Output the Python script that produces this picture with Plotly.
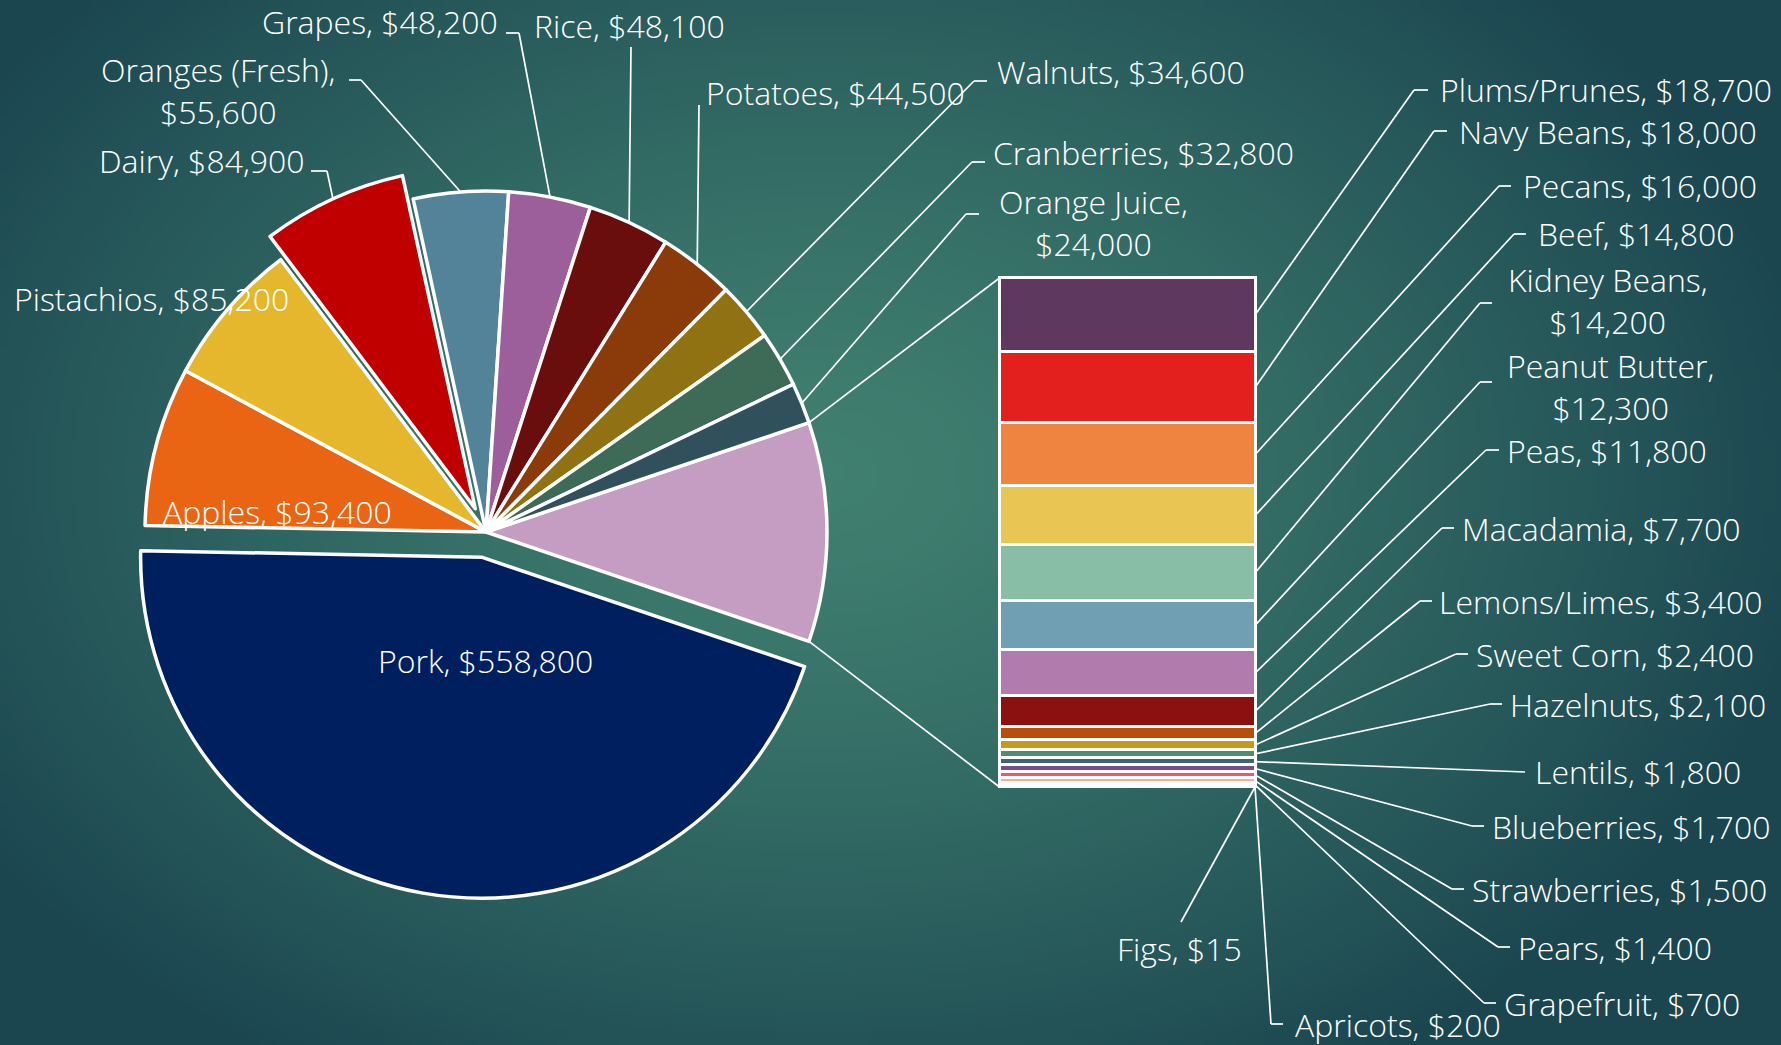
import base64
import math
import struct
import zlib

import plotly.graph_objects as go

W, H = 1781, 1045

# Main pie slices
pie_labels = ["Pork", "Apples", "Pistachios", "Dairy", "Oranges (Fresh)", "Grapes", "Rice",
              "Potatoes", "Walnuts", "Cranberries", "Orange Juice"]
pie_values = [558800, 93400, 85200, 84900, 55600, 48200, 48100, 44500, 34600, 32800, 24000]
pie_colors = ["#001F5F", "#E96513", "#E5B72C", "#C00000", "#528399", "#9D5F9B", "#6A0D0D",
              "#8B3A0A", "#917212", "#3E6B58", "#30505C"]
other_color = "#C59DC3"

# Items broken out into the bar
bar_labels = ["Plums/Prunes", "Navy Beans", "Pecans", "Beef", "Kidney Beans", "Peanut Butter",
              "Peas", "Macadamia", "Lemons/Limes", "Sweet Corn", "Hazelnuts", "Lentils",
              "Blueberries", "Strawberries", "Pears", "Grapefruit", "Apricots", "Figs"]
bar_values = [18700, 18000, 16000, 14800, 14200, 12300, 11800, 7700, 3400, 2400, 2100, 1800,
              1700, 1500, 1400, 700, 200, 15]
bar_colors = ["#5E385E", "#E4201E", "#EF8441", "#E9C554", "#89BEA6", "#709EB3", "#B27BAE",
              "#8B1010", "#B84E0E", "#C49A1C", "#4F8D72", "#3F6274", "#7B4A87", "#F0566A",
              "#F5B191", "#F8D0A0", "#D0E4DA", "#A0C0D0"]

pulled = {"Pork": 0.075, "Dairy": 0.075}
wrapped = {"Oranges (Fresh)", "Orange Juice", "Kidney Beans", "Peanut Butter"}

# label layout in pixels: x, y, anchor, leader points (label side)
label_pos = {
    "Pork": (486, 660, "center", None),
    "Apples": (161, 511, "left", None),
    "Pistachios": (12, 299, "left", None),
    "Dairy": (307, 160, "right", [(327, 171), (311, 171)]),
    "Oranges (Fresh)": (218, 90, "center", [(361, 80), (349, 80)]),
    "Grapes": (500, 22, "right", [(519, 33), (506, 33)]),
    "Rice": (532, 26, "left", [(631, 47)]),
    "Potatoes": (704, 93, "left", [(699, 105)]),
    "Walnuts": (995, 71, "left", [(974, 81), (987, 81)]),
    "Cranberries": (991, 152, "left", [(972, 162), (985, 162)]),
    "Orange Juice": (1093, 223, "center", [(966, 214), (979, 214)]),
    "Plums/Prunes": (1438, 89, "left", [(1414, 90), (1428, 90)]),
    "Navy Beans": (1457, 132, "left", [(1434, 131), (1447, 131)]),
    "Pecans": (1521, 185, "left", [(1499, 186), (1511, 186)]),
    "Beef": (1536, 234, "left", [(1514, 234), (1526, 234)]),
    "Kidney Beans": (1608, 301, "center", [(1480, 303), (1492, 303)]),
    "Peanut Butter": (1610, 386, "center", [(1480, 382), (1492, 382)]),
    "Peas": (1505, 450, "left", [(1486, 450), (1499, 450)]),
    "Macadamia": (1460, 528, "left", [(1442, 528), (1454, 528)]),
    "Lemons/Limes": (1437, 601, "left", [(1420, 601), (1432, 601)]),
    "Sweet Corn": (1474, 654, "left", [(1456, 654), (1468, 654)]),
    "Hazelnuts": (1508, 704, "left", [(1490, 704), (1502, 704)]),
    "Lentils": (1533, 771, "left", [(1525, 772)]),
    "Blueberries": (1490, 826, "left", [(1472, 826), (1484, 826)]),
    "Strawberries": (1470, 889, "left", [(1452, 889), (1464, 889)]),
    "Pears": (1516, 947, "left", [(1498, 947), (1510, 947)]),
    "Grapefruit": (1502, 1003, "left", [(1484, 1003), (1496, 1003)]),
    "Apricots": (1293, 1024, "left", [(1271, 1024), (1283, 1024)]),
    "Figs": (1244, 948, "right", [(1181, 922)]),
}

# geometry (pixels)
PIE_CX, PIE_CY, PIE_R = 486, 532, 341
BAR_X0, BAR_X1, BAR_Y0, BAR_Y1 = 999.5, 1255, 278, 787
FONT = dict(family="Open Sans, Lato, sans-serif", size=32, color="#FFFFFF", weight=300)


def px(x, y):
    return x / W, 1 - y / H


def make_background():
    # soft radial teal gradient, like the slide background
    w, h = 356, 209
    inner, outer = (64, 128, 112), (27, 70, 80)
    cx, cy = 820 / W * w, 470 / H * h
    ax, ay = 1000 / W * w, 700 / H * h
    rows = []
    for j in range(h):
        row = []
        for i in range(w):
            t = min(1.0, math.hypot((i - cx) / ax, (j - cy) / ay)) ** 1.3
            row += [round(a + (b - a) * t) for a, b in zip(inner, outer)]
        rows.append(b"\x00" + bytes(row))

    def chunk(tag, data):
        return (struct.pack(">I", len(data)) + tag + data
                + struct.pack(">I", zlib.crc32(tag + data) & 0xFFFFFFFF))

    png = (b"\x89PNG\r\n\x1a\n" + chunk(b"IHDR", struct.pack(">IIBBBBB", w, h, 8, 2, 0, 0, 0))
           + chunk(b"IDAT", zlib.compress(b"".join(rows), 9)) + chunk(b"IEND", b""))
    return "data:image/png;base64," + base64.b64encode(png).decode()


other_value = sum(bar_values)
slice_labels = ["Other"] + pie_labels
slice_values = [other_value] + pie_values
total = sum(slice_values)
slice_deg = [360 * v / total for v in slice_values]
rotation = 90 - slice_deg[0] / 2
max_pull = max(pulled.values())

half = PIE_R * (1 + max_pull)
fig = go.Figure()
fig.add_trace(go.Pie(
    labels=slice_labels,
    values=slice_values,
    sort=False,
    direction="clockwise",
    rotation=rotation,
    pull=[pulled.get(n, 0) for n in slice_labels],
    marker=dict(colors=[other_color] + pie_colors, line=dict(color="#FFFFFF", width=3.5)),
    textinfo="none",
    hoverinfo="label+value",
    showlegend=False,
    domain=dict(x=[(PIE_CX - half) / W, (PIE_CX + half) / W],
                y=[1 - (PIE_CY + half) / H, 1 - (PIE_CY - half) / H]),
))

bw, bh, pad = BAR_X1 - BAR_X0, BAR_Y1 - BAR_Y0, 5
for name, v, c in zip(bar_labels, bar_values, bar_colors):
    fig.add_trace(go.Bar(
        x=[0], y=[v], width=[1], name=name,
        marker=dict(color=c, line=dict(color="#FFFFFF", width=3)),
        showlegend=False, hoverinfo="name+y",
    ))

# leader line targets
targets = {}
angle = rotation
for name, deg in zip(slice_labels, slice_deg):
    mid = math.radians(angle + deg / 2)
    rr = PIE_R * (1 + pulled.get(name, 0))
    targets[name] = (PIE_CX + rr * math.sin(mid), PIE_CY - rr * math.cos(mid))
    angle += deg
cum = 0
for name, v in zip(bar_labels, bar_values):
    targets[name] = (BAR_X1, BAR_Y0 + (cum + v / 2) / other_value * bh)
    cum += v

shapes = []
line_style = dict(color="#FFFFFF", width=1.7)


def polyline(points):
    for (x0, y0), (x1, y1) in zip(points[:-1], points[1:]):
        a, b = px(x0, y0)
        c, d = px(x1, y1)
        shapes.append(dict(type="line", xref="paper", yref="paper", x0=a, y0=b, x1=c, y1=d,
                           line=line_style, layer="above"))


# connectors from the "Other" slice to the bar
for ang, by in [(rotation, BAR_Y0), (rotation + slice_deg[0], BAR_Y1)]:
    a = math.radians(ang)
    polyline([(PIE_CX + PIE_R * math.sin(a), PIE_CY - PIE_R * math.cos(a)), (BAR_X0, by)])

annotations = []
for name, v in zip(pie_labels + bar_labels, pie_values + bar_values):
    x, y, anchor, via = label_pos[name]
    sep = "<br>" if name in wrapped else " "
    text = f"{name},{sep}${v:,}"
    ax, ay = px(x, y)
    annotations.append(dict(text=text, x=ax, y=ay, xref="paper", yref="paper",
                            xanchor=anchor, yanchor="middle", align="center",
                            showarrow=False, font=FONT))
    if via:
        polyline([targets[name]] + via)

fig.update_layout(
    width=W, height=H,
    margin=dict(l=0, r=0, t=0, b=0),
    paper_bgcolor="#2F6A66",
    plot_bgcolor="rgba(0,0,0,0)",
    barmode="stack",
    bargap=0,
    xaxis=dict(domain=[(BAR_X0 - pad) / W, (BAR_X1 + pad) / W],
               range=[-0.5 - pad / bw, 0.5 + pad / bw], visible=False, fixedrange=True),
    yaxis=dict(domain=[1 - (BAR_Y1 + pad) / H, 1 - (BAR_Y0 - pad) / H],
               range=[other_value * (1 + pad / bh), -other_value * pad / bh],
               visible=False, fixedrange=True),
    images=[dict(source=make_background(), xref="paper", yref="paper", x=0, y=1,
                 sizex=1, sizey=1, xanchor="left", yanchor="top", sizing="stretch",
                 layer="below")],
    shapes=shapes,
    annotations=annotations,
)

fig.write_html("out.html", config={"displayModeBar": False},
               post_script="document.body.style.margin='0';document.body.style.overflow='hidden';")
